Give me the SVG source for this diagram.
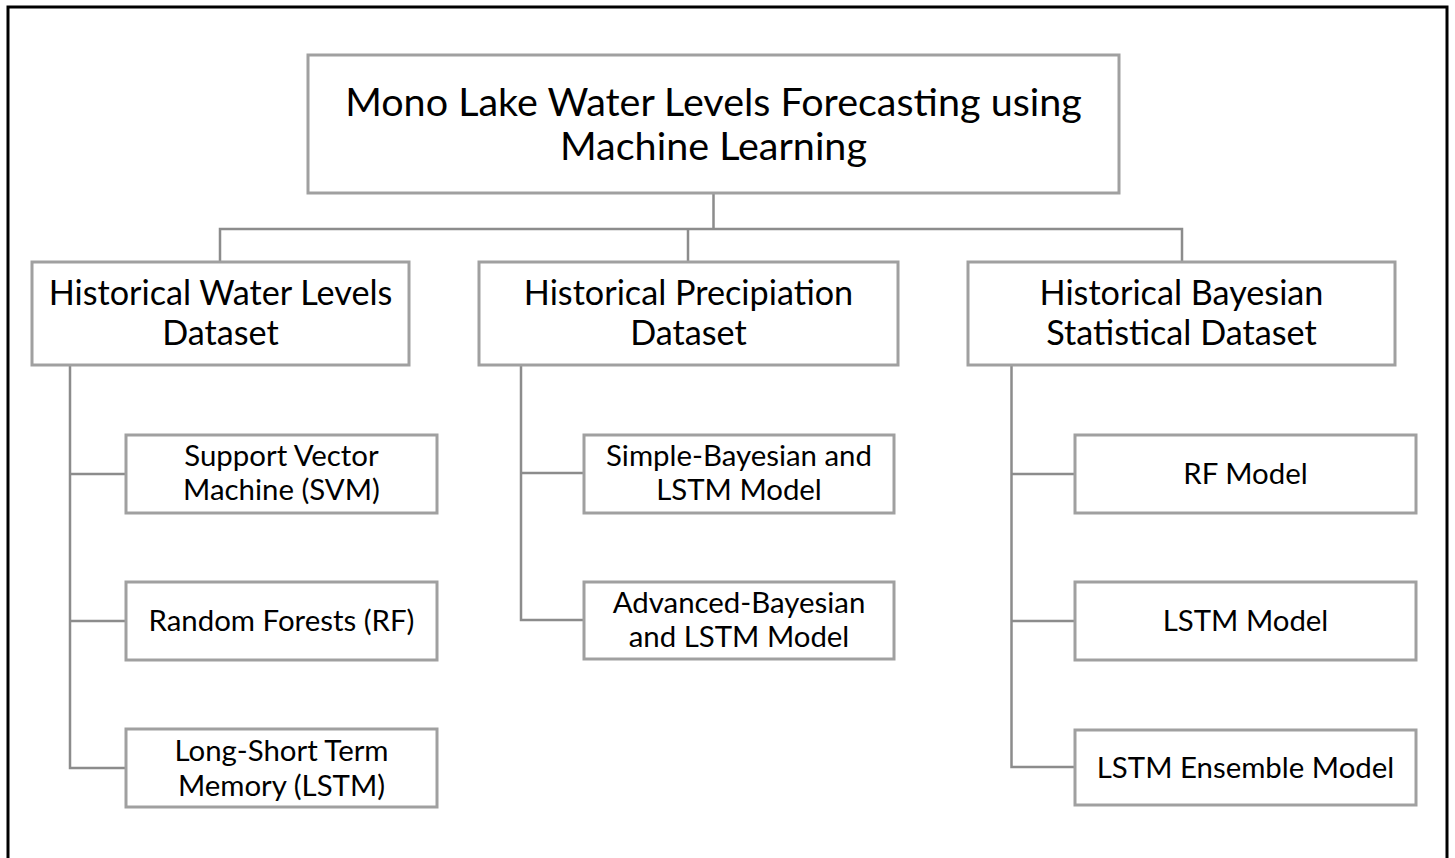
<svg xmlns="http://www.w3.org/2000/svg" width="1455" height="858" viewBox="0 0 1455 858">
  <style>
    .frame { fill: none; stroke: #000; stroke-width: 3; }
    .box { fill: #fff; stroke: #a0a0a0; stroke-width: 3; }
    .link { fill: none; stroke: #8c8c8c; stroke-width: 2.5; }
    text { font-family: "Lato", "Open Sans", "Liberation Sans", sans-serif; fill: #000; text-anchor: middle; }
    .t1 { font-size: 39.5px; }
    .t2 { font-size: 34.2px; }
    .t3 { font-size: 29.4px; }
  </style>
  <rect width="1455" height="858" fill="#fff"/>
  <!-- outer frame, bottom edge runs past the canvas -->
  <path class="frame" d="M8,870 V7 H1447 V870"/>

  <g id="connectors">
    <path class="link" d="M713.5,193 V229 M220,262 V229 H1182 V262 M688,229 V262"/>
    <path class="link" d="M70,365 V768 H126 M70,474 H126 M70,621 H126"/>
    <path class="link" d="M521,365 V620 H584 M521,473 H584"/>
    <path class="link" d="M1011.5,365 V767 H1075 M1011.5,474 H1075 M1011.5,621 H1075"/>
  </g>

  <g id="root">
    <rect class="box" x="308" y="55" width="811" height="138"/>
    <text class="t1" x="713.5" y="116">Mono Lake Water Levels Forecasting using</text>
    <text class="t1" x="713.5" y="160">Machine Learning</text>
  </g>

  <g id="water-levels">
    <rect class="box" x="32" y="262" width="377" height="103"/>
    <text class="t2" x="220.5" y="305">Historical Water Levels</text>
    <text class="t2" x="220.5" y="345">Dataset</text>
  </g>
  <g id="precipitation">
    <rect class="box" x="479" y="262" width="419" height="103"/>
    <text class="t2" x="688.5" y="305">Historical Precipiation</text>
    <text class="t2" x="688.5" y="345">Dataset</text>
  </g>
  <g id="bayesian">
    <rect class="box" x="968" y="262" width="427" height="103"/>
    <text class="t2" x="1181.5" y="305">Historical Bayesian</text>
    <text class="t2" x="1181.5" y="345">Statistical Dataset</text>
  </g>

  <g id="svm">
    <rect class="box" x="126" y="435" width="311" height="78"/>
    <text class="t3" x="281.5" y="466">Support Vector</text>
    <text class="t3" x="281.5" y="500">Machine (SVM)</text>
  </g>
  <g id="rf">
    <rect class="box" x="126" y="582" width="311" height="78"/>
    <text class="t3" x="281.5" y="631">Random Forests (RF)</text>
  </g>
  <g id="lstm">
    <rect class="box" x="126" y="729" width="311" height="78"/>
    <text class="t3" x="281.5" y="761">Long-Short Term</text>
    <text class="t3" x="281.5" y="796">Memory (LSTM)</text>
  </g>

  <g id="simple-bayesian">
    <rect class="box" x="584" y="435" width="310" height="78"/>
    <text class="t3" x="739" y="466">Simple-Bayesian and</text>
    <text class="t3" x="739" y="500">LSTM Model</text>
  </g>
  <g id="advanced-bayesian">
    <rect class="box" x="584" y="582" width="310" height="77"/>
    <text class="t3" x="739" y="613">Advanced-Bayesian</text>
    <text class="t3" x="739" y="647">and LSTM Model</text>
  </g>

  <g id="rf-model">
    <rect class="box" x="1075" y="435" width="341" height="78"/>
    <text class="t3" x="1245.5" y="484">RF Model</text>
  </g>
  <g id="lstm-model">
    <rect class="box" x="1075" y="582" width="341" height="78"/>
    <text class="t3" x="1245.5" y="631">LSTM Model</text>
  </g>
  <g id="lstm-ensemble">
    <rect class="box" x="1075" y="730" width="341" height="75"/>
    <text class="t3" x="1245.5" y="778">LSTM Ensemble Model</text>
  </g>
</svg>
